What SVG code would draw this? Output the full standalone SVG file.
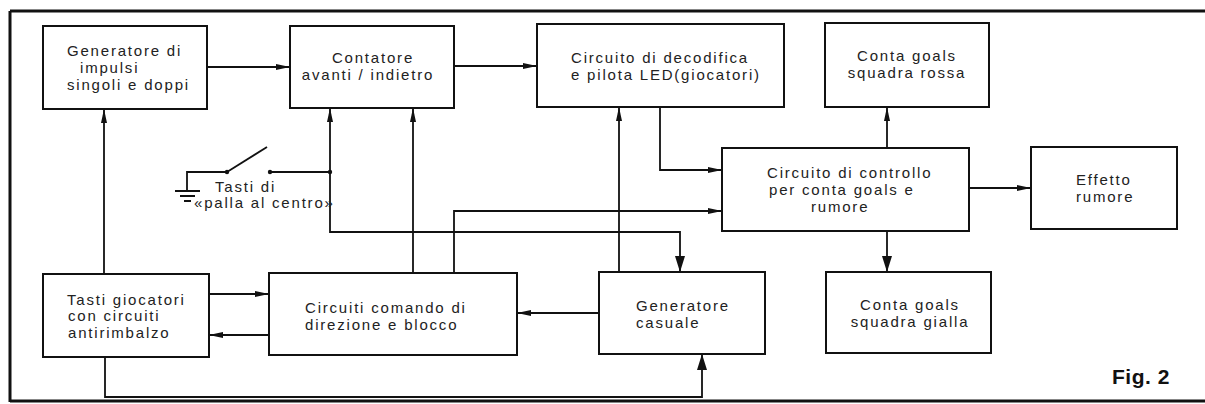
<svg xmlns="http://www.w3.org/2000/svg" width="1205" height="404" viewBox="0 0 1205 404">
<style>
.box{fill:#fff;stroke:#111;stroke-width:2}
.t{font-family:"Liberation Sans",Arial,sans-serif;font-size:15px;fill:#222;letter-spacing:1.8px}
.c{fill:none;stroke:#111;stroke-width:1.8}
.fr{fill:none;stroke:#111;stroke-width:3}
</style>
<defs>
<marker id="a" markerUnits="userSpaceOnUse" markerWidth="14" markerHeight="8" refX="14" refY="4" orient="auto"><path d="M0,1 L14,4 L0,7 z" fill="#111"/></marker>
<marker id="b" markerUnits="userSpaceOnUse" markerWidth="16" markerHeight="10" refX="16" refY="5" orient="auto"><path d="M0,0 L16,5 L0,10 z" fill="#111"/></marker>
</defs>
<rect width="1205" height="404" fill="#fff"/>
<g id="frame">
<path class="fr" d="M10,11 H1205 M10,11 V402 M10,401 H1205"/>
</g>
<g id="connectors">
<path class="c" d="M207,67 H290" marker-end="url(#a)"/>
<path class="c" d="M454,66 H537" marker-end="url(#a)"/>
<path class="c" d="M104,274 V109" marker-end="url(#a)"/>
<path class="c" d="M330,172 V108" marker-end="url(#a)"/>
<path class="c" d="M330,172 V232 H680 V272" marker-end="url(#b)"/>
<path class="c" d="M413,273 V108" marker-end="url(#a)"/>
<path class="c" d="M454,273 V211 H722" marker-end="url(#a)"/>
<path class="c" d="M619,272 V107" marker-end="url(#a)"/>
<path class="c" d="M660,107 V170 H722" marker-end="url(#a)"/>
<path class="c" d="M887,148 V107" marker-end="url(#a)"/>
<path class="c" d="M887,231 V272" marker-end="url(#b)"/>
<path class="c" d="M969,188 H1031" marker-end="url(#a)"/>
<path class="c" d="M209,294 H269" marker-end="url(#a)"/>
<path class="c" d="M269,335 H209" marker-end="url(#a)"/>
<path class="c" d="M599,313 H517" marker-end="url(#a)"/>
<path class="c" d="M105,357 V397 H702 V354" marker-end="url(#b)"/>
</g>
<g id="switch">
<path class="c" d="M270,172 H330"/>
<path class="c" d="M227,172 L267,147"/>
<path class="c" d="M227,172 H187 V191"/>
<path class="c" d="M175,191 H200 M180,196 H195 M184,201 H191"/>
<circle cx="227" cy="172" r="2.2" fill="#111"/>
<circle cx="270" cy="172" r="2.2" fill="#111"/>
<circle cx="330" cy="172" r="2.2" fill="#111"/>
<text class="t" x="215" y="192">Tasti di</text>
<text class="t" x="194" y="208" letter-spacing="1.4">«palla al centro»</text>
</g>
<g id="gen-impulsi">
<rect class="box" x="43" y="26" width="164" height="83"/>
<text class="t" x="67" y="56">Generatore di</text>
<text class="t" x="80" y="73">impulsi</text>
<text class="t" x="67" y="90">singoli e doppi</text>
</g>
<g id="contatore">
<rect class="box" x="290" y="26" width="164" height="82"/>
<text class="t" x="373" y="63" text-anchor="middle">Contatore</text>
<text class="t" x="368" y="80" text-anchor="middle">avanti / indietro</text>
</g>
<g id="decodifica">
<rect class="box" x="537" y="24" width="247" height="83"/>
<text class="t" x="571" y="63">Circuito di decodifica</text>
<text class="t" x="571" y="80">e pilota LED(giocatori)</text>
</g>
<g id="goals-rossa">
<rect class="box" x="825" y="23" width="164" height="84"/>
<text class="t" x="907" y="61" text-anchor="middle">Conta goals</text>
<text class="t" x="907" y="78" text-anchor="middle">squadra rossa</text>
</g>
<g id="controllo">
<rect class="box" x="722" y="148" width="247" height="83"/>
<text class="t" x="767" y="178">Circuito di controllo</text>
<text class="t" x="769" y="195">per conta goals e</text>
<text class="t" x="811" y="212">rumore</text>
</g>
<g id="effetto">
<rect class="box" x="1031" y="147" width="146" height="82"/>
<text class="t" x="1076" y="185">Effetto</text>
<text class="t" x="1076" y="202">rumore</text>
</g>
<g id="tasti-giocatori">
<rect class="box" x="43" y="274" width="166" height="83"/>
<text class="t" x="67" y="305">Tasti giocatori</text>
<text class="t" x="68" y="321">con circuiti</text>
<text class="t" x="68" y="338">antirimbalzo</text>
</g>
<g id="comando">
<rect class="box" x="269" y="273" width="248" height="82"/>
<text class="t" x="305" y="313">Circuiti comando di</text>
<text class="t" x="305" y="330">direzione e blocco</text>
</g>
<g id="casuale">
<rect class="box" x="599" y="272" width="166" height="82"/>
<text class="t" x="636" y="311">Generatore</text>
<text class="t" x="636" y="328">casuale</text>
</g>
<g id="goals-gialla">
<rect class="box" x="826" y="272" width="165" height="81"/>
<text class="t" x="910" y="310" text-anchor="middle">Conta goals</text>
<text class="t" x="910" y="327" text-anchor="middle">squadra gialla</text>
</g>
<g id="fig">
<text x="1112" y="384" font-family="'Liberation Sans',Arial,sans-serif" font-size="21" font-weight="bold" fill="#111" letter-spacing="0.5">Fig. 2</text>
</g>
</svg>
